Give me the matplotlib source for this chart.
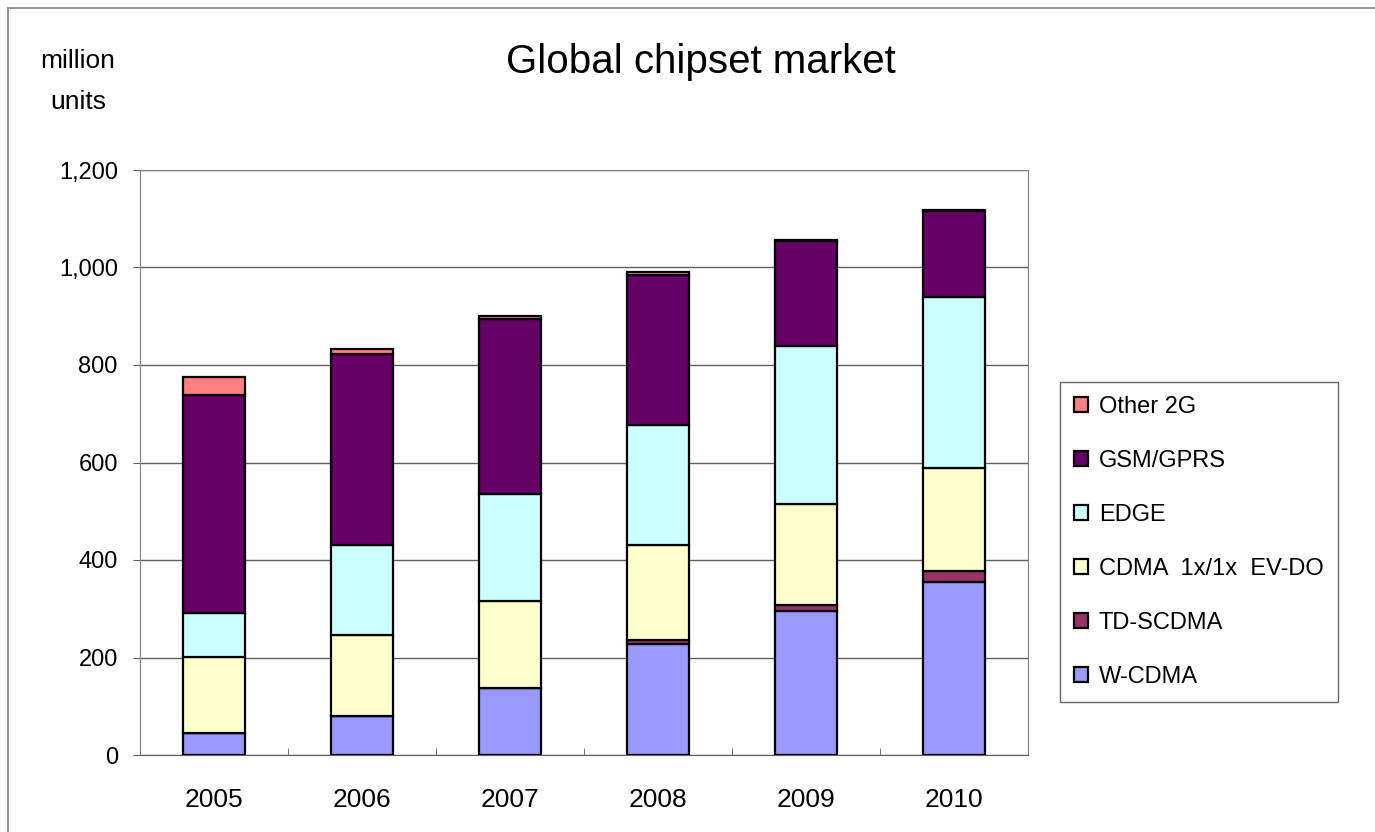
import numpy as np
import matplotlib.pyplot as plt
from matplotlib.patches import Rectangle

plt.rcParams['font.family'] = ['Liberation Sans', 'DejaVu Sans']

years = ['2005', '2006', '2007', '2008', '2009', '2010']
wcdma = [46, 81, 137, 228, 296, 354]
tdscdma = [0, 0, 1, 8, 12, 24]
cdma = [155, 165, 178, 195, 207, 211]
edge = [91, 184, 219, 246, 323, 351]
gsm = [446, 392, 360, 307, 217, 176]
other2g = [37, 10, 6, 6, 2, 1]

series = [('W-CDMA', wcdma, '#9999ff'),
          ('TD-SCDMA', tdscdma, '#993366'),
          ('CDMA  1x/1x  EV-DO', cdma, '#ffffcc'),
          ('EDGE', edge, '#ccffff'),
          ('GSM/GPRS', gsm, '#660066'),
          ('Other 2G', other2g, '#ff8080')]

fig = plt.figure(figsize=(13.75, 8.32), dpi=100)
# chart area border (right/bottom edges run off the picture)
fig.patches.append(Rectangle((8/1375, -0.1), 1.2, 1 - 8/832 + 0.1,
                             transform=fig.transFigure, fill=False,
                             edgecolor='#808080', lw=1.2))
ax = fig.add_axes([140/1375, 77/832, 888/1375, 585/832])

x = np.arange(len(years))
bottom = np.zeros(len(years))
handles = []
for name, vals, col in series:
    b = ax.bar(x, vals, 0.42, bottom=bottom, color=col, edgecolor='black',
               lw=1.6, label=name, zorder=3)
    handles.append(b)
    bottom += np.array(vals)

ax.set_xlim(-0.5, 5.5)
ax.set_ylim(0, 1200)
ax.set_yticks(range(0, 1201, 200))
ax.set_yticklabels([f'{v:,}' for v in range(0, 1201, 200)])
ax.set_xticks(x)
ax.set_xticklabels(years)
ax.set_xticks(np.arange(0.5, 5.5, 1), minor=True)
ax.tick_params(axis='x', which='major', length=0, pad=24, labelsize=19)
ax.tick_params(axis='x', which='minor', length=5, direction='in', color='#606060')
ax.tick_params(axis='y', length=5, direction='out', pad=11, labelsize=17, color='#606060')
ax.grid(axis='y', color='#606060', lw=1, zorder=0)
for s in ax.spines.values():
    s.set_color('#808080')
ax.spines['bottom'].set_color('#606060')

fig.text(701/1375, 1 - 62/832, 'Global chipset market', ha='center', va='center', fontsize=29)
fig.text(78/1375, 1 - 61/832, 'million', ha='center', va='center', fontsize=19)
fig.text(78/1375, 1 - 102/832, 'units', ha='center', va='center', fontsize=19)

leg = fig.legend(handles[::-1], [s[0] for s in series][::-1],
                 loc='upper left', bbox_to_anchor=(1060/1375, 1 - 382/832),
                 fontsize=17, frameon=True, fancybox=False, edgecolor='#404040',
                 handlelength=0.6, handleheight=0.6, handletextpad=0.45,
                 labelspacing=1.35, borderpad=0.6, borderaxespad=0)
leg.get_frame().set_linewidth(1.0)

fig.savefig('out.png', dpi=100)
